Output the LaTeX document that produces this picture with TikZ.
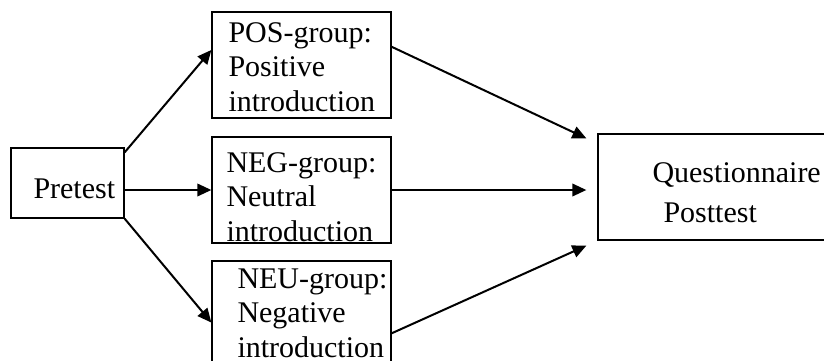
\documentclass[tikz,border=0pt]{standalone}
\usepackage{fontspec}
\setmainfont{Liberation Serif}
\usetikzlibrary{arrows.meta,calc}
\tikzset{
  >={Triangle[length=5.6pt,width=5pt]},
  gbox/.style={draw=black, line width=0.5pt, inner sep=0pt},
  gtxt/.style={anchor=north west, inner sep=0pt, align=left,
               font=\fontsize{12}{13.8}\selectfont},
  gseta/.style={->, black, line width=0.8pt},
}

\begin{document}
\begin{tikzpicture}[x=0.4pt, y=-0.4pt]

  % área visível
  \useasboundingbox (0,0) rectangle (824,360);
  \clip (0,0) rectangle (824,360);

  % caixas
  \node[gbox, minimum width=45.2pt, minimum height=28pt] (pre) at (67.5,183) {};
  \node[gbox, minimum width=71.6pt, minimum height=42.4pt] (pos) at (301.5,65) {};
  \node[gbox, minimum width=71.6pt, minimum height=42.4pt] (neg) at (301.5,190) {};
  \node[gbox, minimum width=71.6pt, minimum height=42.4pt] (neu) at (301.5,314) {};
  \node[gbox, minimum width=96pt, minimum height=42.4pt] (quest) at (718,187) {};

  % textos
  \node[gtxt] (pretxt) at (33,178) {Pretest};
  \node[gtxt] (postxt) at (228,22) {POS-group:\\Positive\\introduction};
  \node[gtxt] (negtxt) at (226,152) {NEG-group:\\Neutral\\introduction};
  \node[gtxt] (neutxt) at (237,268) {NEU-group:\\Negative\\introduction};
  \node[gtxt] (questxt) at (652,162) {Questionnaire\\[2.2pt]\hspace*{4.4pt}Posttest};

  % pontos de chegada
  \coordinate (qa) at ($(quest.north west)+(-11,5)$);
  \coordinate (qb) at ($(quest.west)+(-11,4)$);
  \coordinate (qc) at ($(quest.south west)+(-11,5)$);

  % setas
  \draw[gseta] ($(pre.north east)+(0,5)$) -- ($(pos.north west)!0.36!(pos.south west)$);
  \draw[gseta] (pre.east |- neg.west) -- (neg.west);
  \draw[gseta] (pre.south east) -- ($(neu.north west)!0.58!(neu.south west)$);
  \draw[gseta] ($(pos.north east)!0.33!(pos.south east)$) -- (qa);
  \draw[gseta] (neg.east) -- (neg.east -| qb);
  \draw[gseta] ($(neu.north east)!0.68!(neu.south east)$) -- (qc);

\end{tikzpicture}
\end{document}
